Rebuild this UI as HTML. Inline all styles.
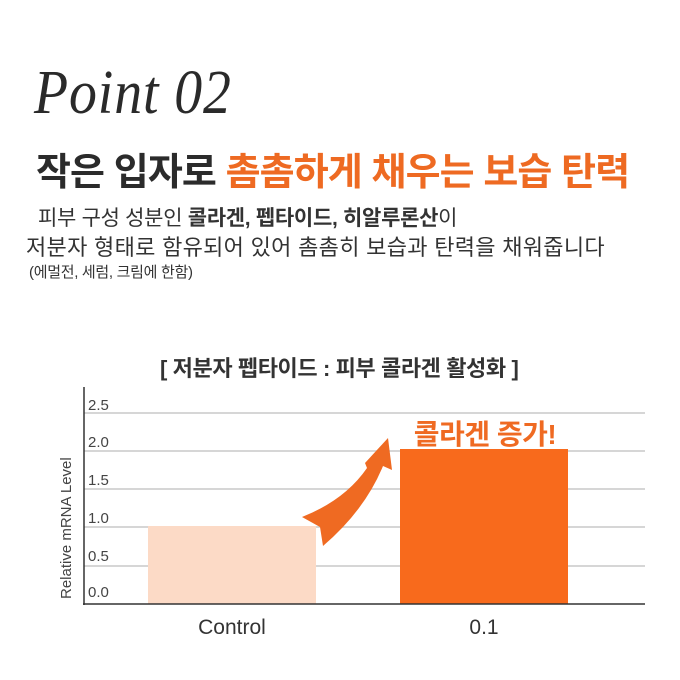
<!DOCTYPE html>
<html><head><meta charset="utf-8"><style>
body{margin:0;width:680px;height:680px;background:#fff;position:relative;overflow:hidden;font-family:"Liberation Sans","Noto Sans CJK KR",sans-serif;}
.a{position:absolute;white-space:nowrap;}
</style></head><body>
<div class="a" style="left:34px;top:58px;font-family:'Liberation Serif',serif;font-style:italic;font-size:62px;color:#2a2a2a;letter-spacing:1px;transform:scaleX(0.9);transform-origin:left;">Point 02</div>
<div class="a" style="left:36px;top:141px;font-size:38px;font-weight:bold;color:#2b2b2b;letter-spacing:-0.9px;">작은 입자로 <span style="color:#ee6a22">촘촘하게 채우는 보습 탄력</span></div>
<div class="a" style="left:38px;top:202px;font-size:21px;color:#333;letter-spacing:-0.3px;">피부 구성 성분인 <b>콜라겐, 펩타이드, 히알루론산</b>이</div>
<div class="a" style="left:26px;top:230px;font-size:22px;color:#333;letter-spacing:0.3px;">저분자 형태로 함유되어 있어 촘촘히 보습과 탄력을 채워줍니다</div>
<div class="a" style="left:29px;top:261px;font-size:15px;color:#333;letter-spacing:-0.3px;">(에멀전, 세럼, 크림에 한함)</div>
<div class="a" style="left:160px;top:351px;font-size:22px;font-weight:bold;color:#333;letter-spacing:-0.4px;">[ 저분자 펩타이드 : 피부 콜라겐 활성화 ]</div>
<svg class="a" style="left:0;top:0" width="680" height="680">
<g stroke="#c8c8c8" stroke-width="1.5">
<line x1="84" y1="413" x2="645" y2="413"/><line x1="84" y1="451" x2="645" y2="451"/>
<line x1="84" y1="489" x2="645" y2="489"/><line x1="84" y1="527" x2="645" y2="527"/>
<line x1="84" y1="566" x2="645" y2="566"/></g>
<rect x="148" y="526" width="168" height="78" fill="#fcdac6"/>
<rect x="400" y="449" width="168" height="155" fill="#f86a1c"/>
<line x1="84" y1="387" x2="84" y2="605" stroke="#333" stroke-width="1.5"/>
<line x1="83" y1="604" x2="645" y2="604" stroke="#333" stroke-width="1.5"/>
<g font-family="Liberation Sans,sans-serif" font-size="15" fill="#444">
<text x="88" y="410">2.5</text><text x="88" y="447">2.0</text><text x="88" y="485">1.5</text>
<text x="88" y="523">1.0</text><text x="88" y="561">0.5</text><text x="88" y="597">0.0</text></g>
<text transform="translate(71,599) rotate(-90)" font-size="15" fill="#444" font-family="Liberation Sans,sans-serif">Relative mRNA Level</text>
<text x="232" y="634" text-anchor="middle" font-size="21" fill="#333" font-family="Liberation Sans,sans-serif">Control</text>
<text x="484" y="634" text-anchor="middle" font-size="21" fill="#333" font-family="Liberation Sans,sans-serif">0.1</text>
<path d="M302,517 Q345,500 367,468 L365,463 L388,438 L392,470 L383,466 Q365,510 323,546 L320,527 Z" fill="#ef6a22"/>
<text x="485" y="444" text-anchor="middle" font-size="28" font-weight="bold" fill="#ef6a22" font-family="Liberation Sans,'Noto Sans CJK KR',sans-serif" letter-spacing="-0.5">콜라겐 증가!</text>
</svg>
</body></html>
